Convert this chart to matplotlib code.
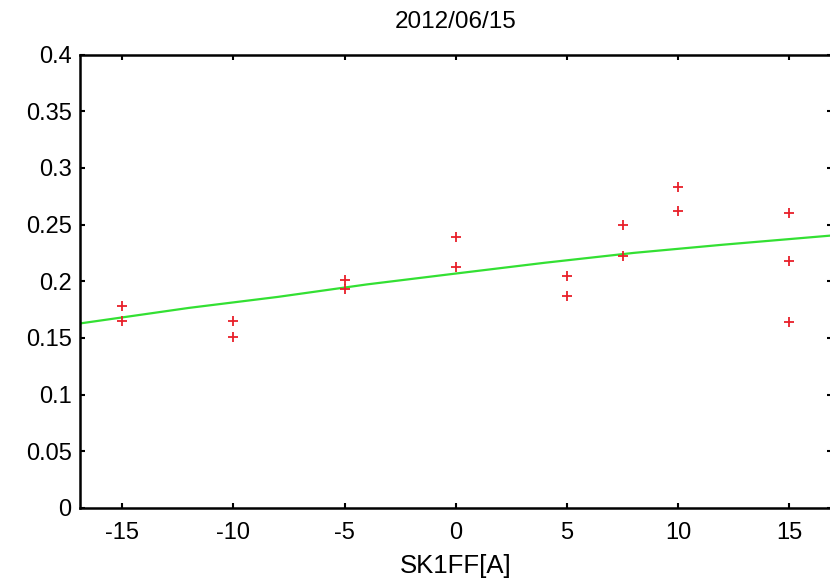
import numpy as np
import matplotlib
matplotlib.use("Agg")
import matplotlib.pyplot as plt

plt.rcParams['font.family'] = ['Liberation Sans', 'DejaVu Sans']
plt.rcParams['axes.unicode_minus'] = False

# measured points
x_meas = [-15, -15, -10, -10, -5, -5, 0, 0, 5, 5, 7.5, 7.5, 10, 10, 15, 15, 15]
y_meas = [0.178, 0.165, 0.165, 0.151, 0.201, 0.193, 0.239, 0.213,
          0.205, 0.187, 0.250, 0.222, 0.283, 0.262, 0.260, 0.218, 0.164]

# fitted curve
x_fit = [-17, -12, -8, -4, 0, 4, 8, 12, 17]
y_fit = [0.1625, 0.1765, 0.1862, 0.1972, 0.2068, 0.2163, 0.2250, 0.2322, 0.2405]

xticks = [-15, -10, -5, 0, 5, 10, 15]
yticks = [0, 0.05, 0.1, 0.15, 0.2, 0.25, 0.3, 0.35, 0.4]
yticklabels = ['0', '0.05', '0.1', '0.15', '0.2', '0.25', '0.3', '0.35', '0.4']

fig = plt.figure(figsize=(8.3, 5.83), dpi=100)
ax = fig.add_axes([80/830, 75/583, 751.5/830, 453.5/583])

ax.plot(x_fit, y_fit, '-', color='#33e033', lw=1.6)
ax.plot(x_meas, y_meas, '+', color='#e8202a', ms=7, mew=1.3)

ax.set_xlim(-16.9, 16.9)
ax.set_ylim(0, 0.4)
ax.set_xticks(xticks)
ax.set_yticks(yticks)
ax.set_yticklabels(yticklabels)
ax.tick_params(direction='in', length=3.5, width=1.5, top=True, right=True,
               labelsize=17)
ax.tick_params(axis='x', pad=10)
ax.tick_params(axis='y', pad=6)
for s in ax.spines.values():
    s.set_linewidth(1.8)

ax.set_xlabel('SK1FF[A]', fontsize=18.5, labelpad=7)
ax.set_title('2012/06/15', fontsize=17.5, pad=19)

fig.savefig('out.png', dpi=100)
